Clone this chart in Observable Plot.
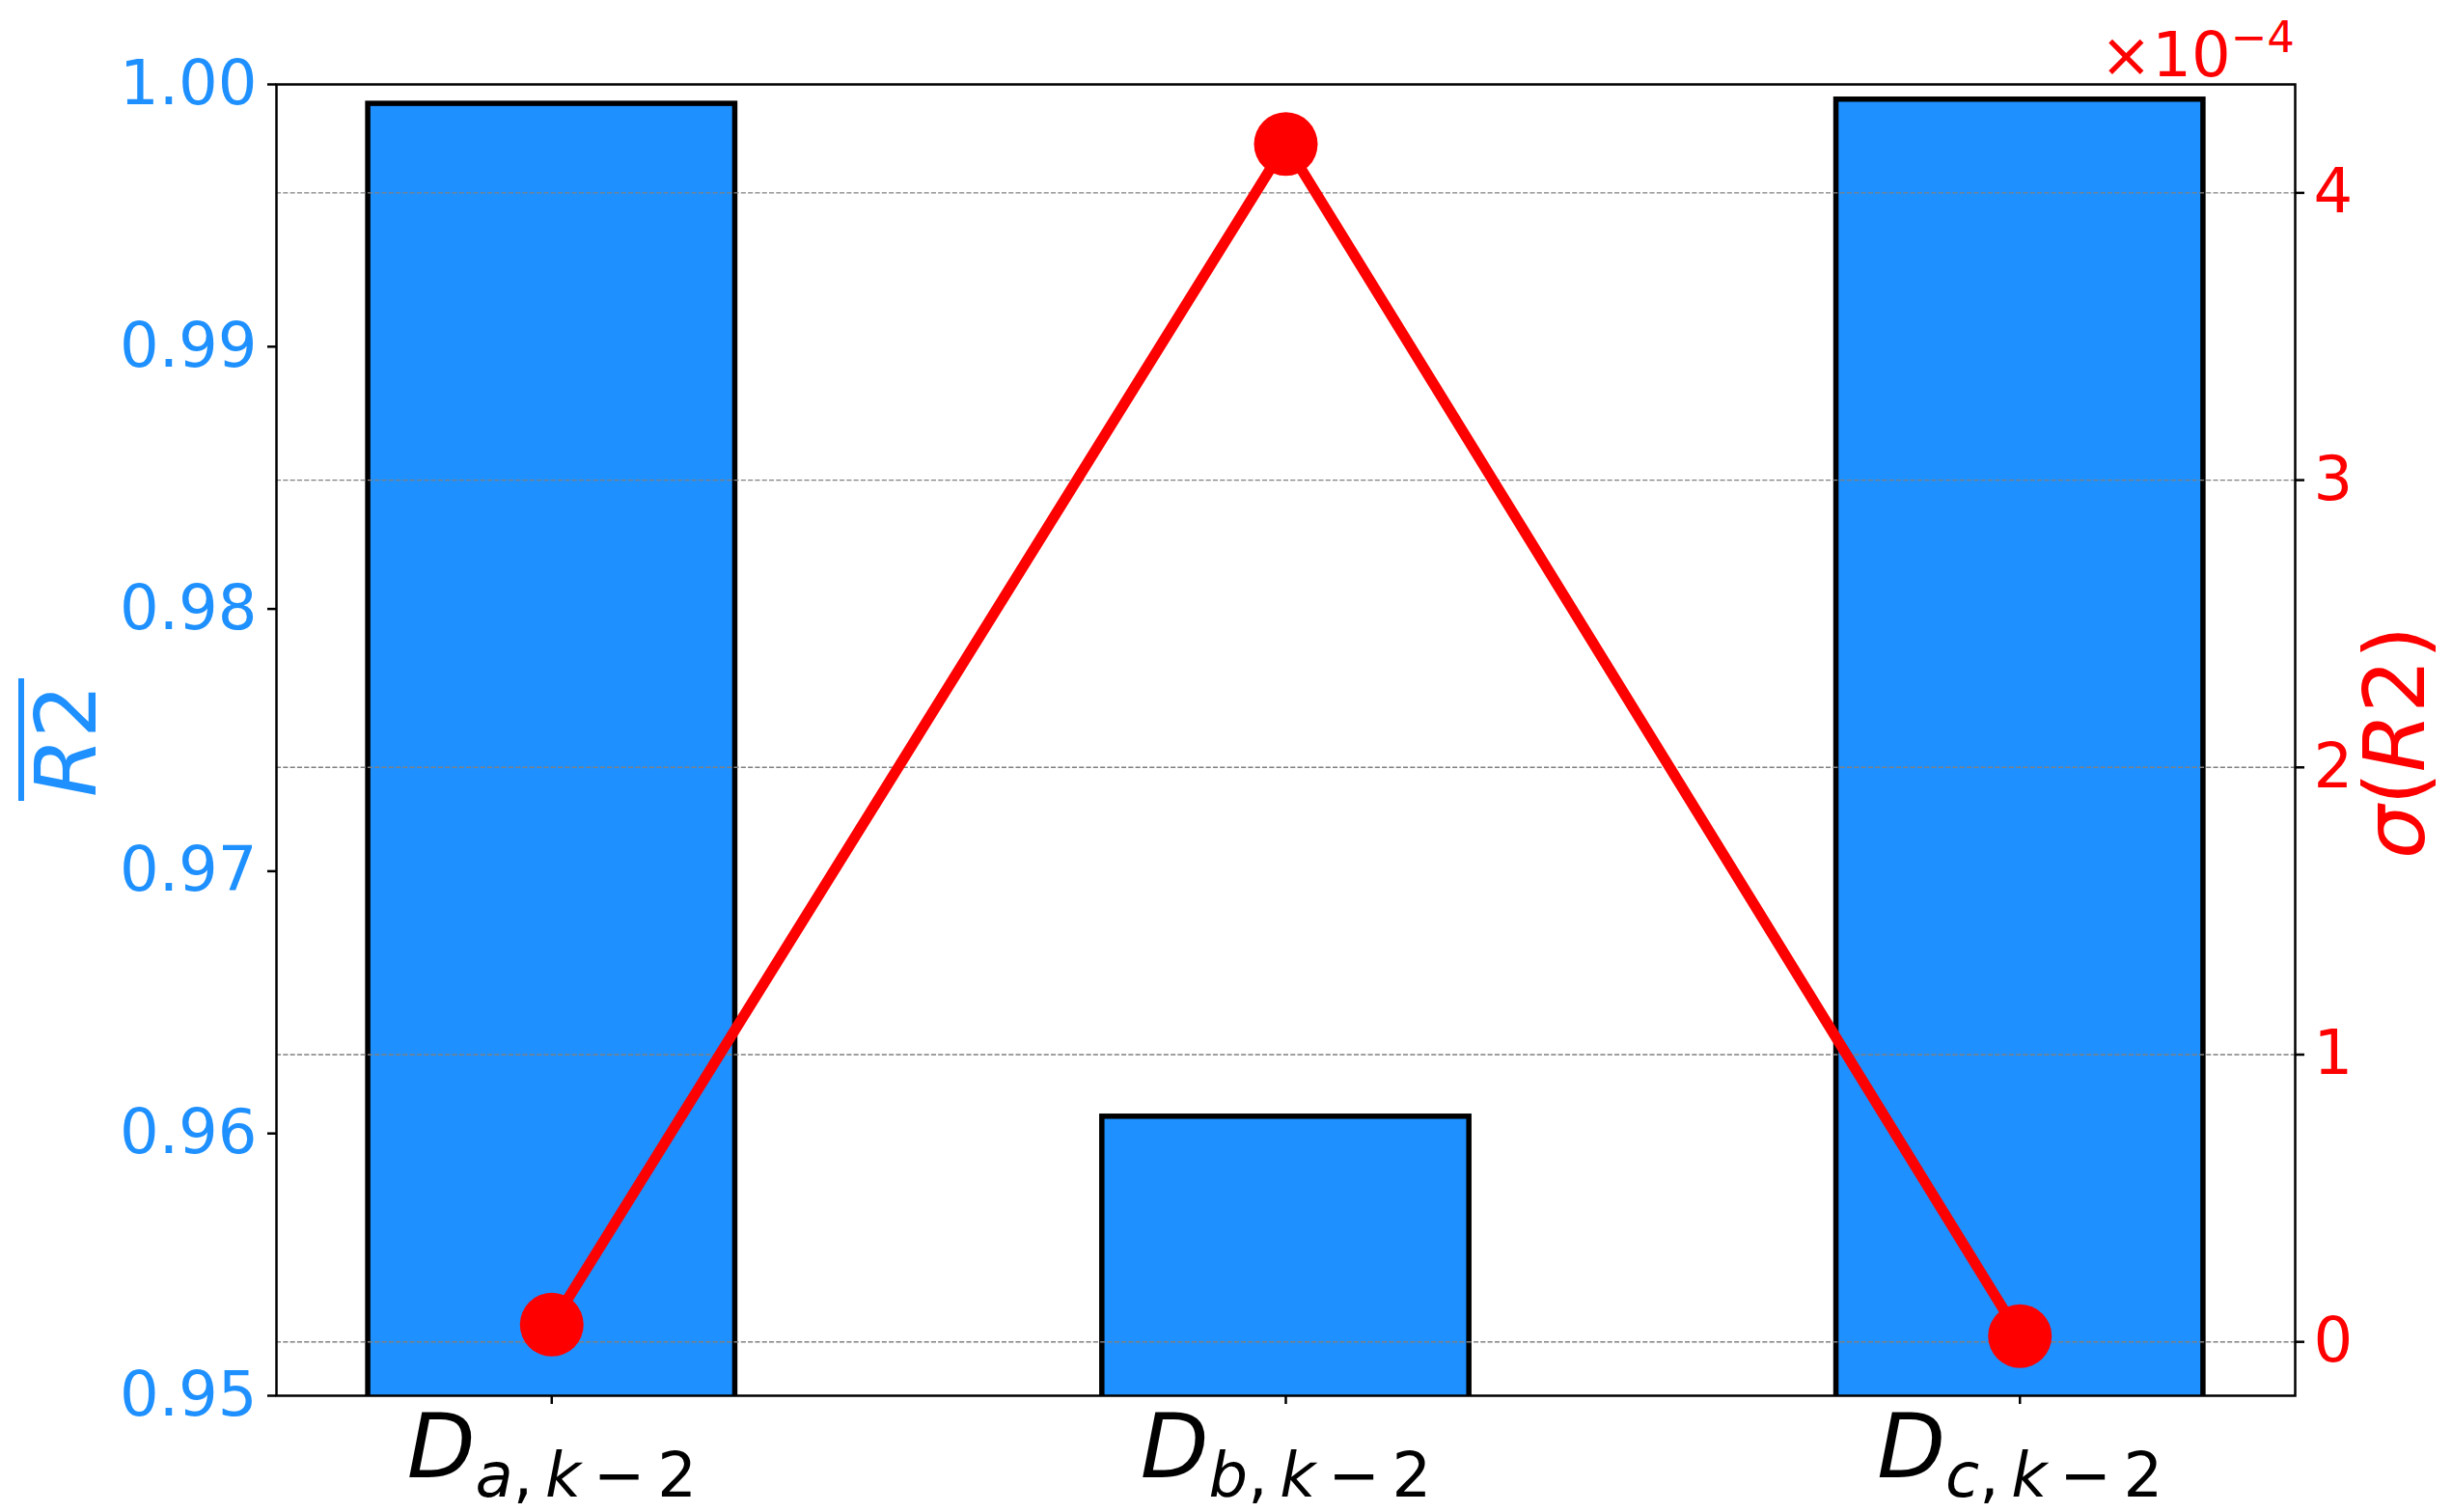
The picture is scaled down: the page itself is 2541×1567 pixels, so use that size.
<!DOCTYPE html>
<html>
<head>
<meta charset="utf-8">
<script src="https://cdn.jsdelivr.net/npm/d3@7"></script>
<script src="https://cdn.jsdelivr.net/npm/@observablehq/plot@0.6"></script>
<style>
  html, body { margin: 0; padding: 0; background: #ffffff; }
  #chart svg { display: block; }
</style>
</head>
<body>
<div id="chart"></div>
<script>
// ---- data ----
const categories = ["a", "b", "c"];               // D_{a,k-2}, D_{b,k-2}, D_{c,k-2}
const r2Mean = [0.99926, 0.96064, 0.99942];        // left axis: mean R2 (bars)
const r2Std = [0.06, 4.17, 0.02];                  // right axis: sigma(R2), in units of 1e-4
const leftTicks = [0.95, 0.96, 0.97, 0.98, 0.99, 1.00];
const rightTicks = [0, 1, 2, 3, 4];
const rightExponent = "−4";

// ---- layout ----
const W = 2541, H = 1567;
const mL = 286, mR = 163, mT = 87, mB = 121;
const blue = "#1e90ff", red = "#ff0000";
const font = "'DejaVu Sans', sans-serif";

const n = categories.length;
const barWidth = 0.5;
const xPad = 0.05 * (n - 1 + barWidth);
const xDomain = [-barWidth / 2 - xPad, n - 1 + barWidth / 2 + xPad];
const yDomain = [leftTicks[0], leftTicks[leftTicks.length - 1]];

// secondary (right) axis: matplotlib-like auto limits with 5% margins
const sMin = d3.min(r2Std), sMax = d3.max(r2Std);
const sPad = 0.05 * (sMax - sMin);
const toY = d3.scaleLinear().domain([sMin - sPad, sMax + sPad]).range(yDomain);

const rows = categories.map((c, i) => ({
  i, cat: c, mean: r2Mean[i], std: r2Std[i], stdY: toY(r2Std[i])
}));

const chart = Plot.plot({
  width: W,
  height: H,
  marginLeft: mL,
  marginRight: mR,
  marginTop: mT,
  marginBottom: mB,
  style: { fontFamily: font, background: "#ffffff", overflow: "visible" },
  x: { type: "linear", domain: xDomain },
  y: { domain: yDomain },
  marks: [
    Plot.rect(rows, {
      x1: d => d.i - barWidth / 2,
      x2: d => d.i + barWidth / 2,
      y1: d => yDomain[0] - 0.01,
      y2: "mean",
      fill: blue,
      stroke: "black",
      strokeWidth: 5.5,
      clip: true
    }),
    Plot.ruleY(rightTicks, {
      y: d => toY(d),
      stroke: "#808080",
      strokeWidth: 1.4,
      strokeDasharray: "5.1,2.2"
    }),
    Plot.line(rows, { x: "i", y: "stdY", stroke: red, strokeWidth: 11 }),
    Plot.dot(rows, { x: "i", y: "stdY", r: 33, fill: red }),
    Plot.frame({ stroke: "black", strokeWidth: 2.5 }),
    Plot.axisY(leftTicks, {
      anchor: "left",
      tickSize: 9,
      tickPadding: 11,
      tickFormat: d3.format(".2f"),
      stroke: "black",
      strokeWidth: 2.5,
      fill: blue,
      fontSize: 64,
      label: null
    }),
    Plot.axisY(rightTicks, {
      anchor: "right",
      y: toY,
      tickSize: 9,
      tickPadding: 10,
      tickFormat: d => String(d),
      stroke: "black",
      strokeWidth: 2.5,
      fill: red,
      fontSize: 64,
      label: null
    }),
    Plot.axisX(categories.map((c, i) => i), {
      tickSize: 9,
      tickPadding: 10,
      tickFormat: i => "D" + categories[i] + ",k−2",
      stroke: "black",
      strokeWidth: 2.5,
      fill: "black",
      fontSize: 92,
      label: null
    })
  ]
});

document.getElementById("chart").appendChild(chart);

// ---- math-style text (italic symbols, subscripts, overline) ----
const svg = d3.select(chart);
const labelSet = new Map(categories.map((c, i) => ["D" + c + ",k−2", c]));
svg.selectAll("text").each(function () {
  const t = d3.select(this);
  const txt = this.textContent;
  if (!labelSet.has(txt)) return;
  const c = labelSet.get(txt);
  t.text(null);
  t.append("tspan").attr("font-style", "italic").text("D");
  const sub = 64;
  t.append("tspan").attr("font-style", "italic").attr("font-size", sub).attr("dy", 20).text(c);
  t.append("tspan").attr("font-size", sub).text(",\u2009");
  t.append("tspan").attr("font-style", "italic").attr("font-size", sub).text("k");
  t.append("tspan").attr("font-size", sub).text("\u2009−\u20092");
});

// left axis label: overline R2
const plotCY = mT + (H - mT - mB) / 2;
const gl = svg.append("g")
  .attr("transform", `translate(99,${plotCY + 1}) rotate(-90)`)
  .attr("fill", blue)
  .attr("font-family", font)
  .attr("font-size", 88);
const lt = gl.append("text").attr("text-anchor", "middle");
lt.append("tspan").attr("font-style", "italic").text("R");
lt.append("tspan").text("2");
const L = lt.node().getComputedTextLength();
gl.append("line")
  .attr("x1", -L / 2 - 4).attr("x2", L / 2 + 6)
  .attr("y1", -77).attr("y2", -77)
  .attr("stroke", blue).attr("stroke-width", 6);

// right axis label: sigma(R2)
const gr = svg.append("g")
  .attr("transform", `translate(2512,${plotCY + 3}) rotate(-90)`)
  .attr("fill", red)
  .attr("font-family", font)
  .attr("font-size", 88);
const rt = gr.append("text").attr("text-anchor", "middle");
rt.append("tspan").attr("font-style", "italic").text("σ");
rt.append("tspan").text("(");
rt.append("tspan").attr("font-style", "italic").text("R");
rt.append("tspan").text("2)");

// offset text for right axis: ×10^-4
const ot = svg.append("text")
  .attr("x", W - mR)
  .attr("y", 79)
  .attr("text-anchor", "end")
  .attr("fill", red)
  .attr("font-family", font)
  .attr("font-size", 64);
ot.append("tspan").text("×10");
ot.append("tspan").attr("font-size", 45).attr("dy", -25).text(rightExponent);
</script>
</body>
</html>
